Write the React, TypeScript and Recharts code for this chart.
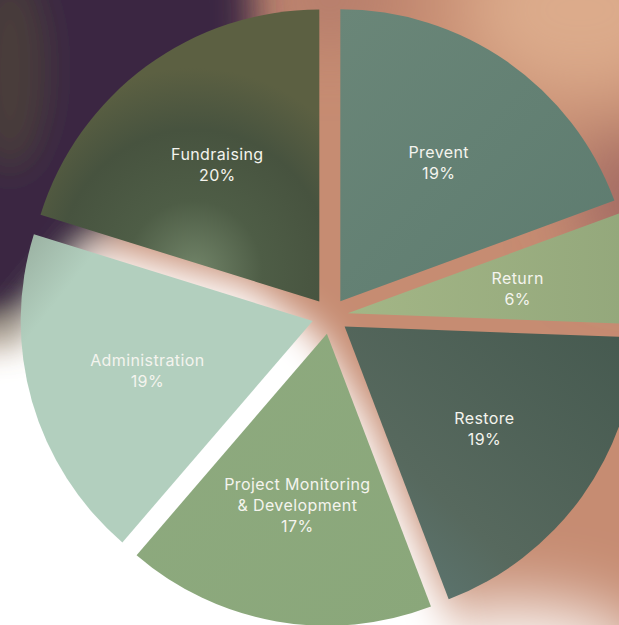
import React from 'react';
import { PieChart, Pie, Cell, Sector } from 'recharts';

const categories = ['Prevent', 'Return', 'Restore', 'Project Monitoring & Development', 'Administration', 'Fundraising'];
const shares = [19.4, 6.2, 18.6, 17.1, 18.5, 20.2];
const labelLines = [['Prevent'], ['Return'], ['Restore'], ['Project Monitoring', '& Development'], ['Administration'], ['Fundraising']];
const gradientIds = ['g-prevent', 'g-return', 'g-restore', 'g-project', 'g-admin', 'g-fund'];

const data = categories.map((name, i) => ({ name, value: shares[i], lines: labelLines[i] }));

const RAD = Math.PI / 180;
const EXPLODE = 18;
const LABEL_R = 172;

const explodedSlice = (props: any) => {
  const a = -props.midAngle * RAD;
  return (
    <Sector
      {...props}
      cx={props.cx + EXPLODE * Math.cos(a)}
      cy={props.cy + EXPLODE * Math.sin(a)}
    />
  );
};

const renderLabel = (props: any) => {
  const { cx, cy, midAngle, payload, value } = props;
  const a = -midAngle * RAD;
  const x = cx + (EXPLODE + LABEL_R) * Math.cos(a);
  const y = cy + (EXPLODE + LABEL_R) * Math.sin(a) + 2;
  const lines: string[] = [...(payload.lines || [payload.name]), `${Math.round(value)}%`];
  const lh = 21;
  const top = y - ((lines.length - 1) * lh) / 2;
  return (
    <text
      x={x}
      y={top}
      fill="#f4f4ee"
      textAnchor="middle"
      dominantBaseline="central"
      fontFamily="Inter, 'Open Sans', sans-serif"
      fontSize={16}
      letterSpacing={0.4}
    >
      {lines.map((l, i) => (
        <tspan key={i} x={x} y={top + i * lh}>{l}</tspan>
      ))}
    </text>
  );
};

// blurred backdrop, like the photo behind the chart
const Backdrop = () => (
  <svg width={619} height={625} style={{ position: 'absolute', left: 0, top: 0 }}>
    <defs>
      <filter id="soft" filterUnits="userSpaceOnUse" x={-200} y={-200} width={1019} height={1025}>
        <feGaussianBlur stdDeviation="18" />
      </filter>
      <filter id="softer" filterUnits="userSpaceOnUse" x={-200} y={-200} width={1019} height={1025}>
        <feGaussianBlur stdDeviation="35" />
      </filter>
    </defs>
    <rect width={619} height={625} fill="#c68c72" />
    <g filter="url(#softer)">
      <ellipse cx={580} cy={10} rx={120} ry={90} fill="#dcab8b" />
      <ellipse cx={630} cy={200} rx={50} ry={70} fill="#9f6862" />
      <ellipse cx={330} cy={0} rx={70} ry={40} fill="#b27a6a" />
      <ellipse cx={510} cy={660} rx={140} ry={55} fill="#ffffff" />
    </g>
    <g filter="url(#soft)">
      <polygon points="-60,-60 250,-60 255,40 200,170 90,240 30,320 -60,340" fill="#3b2743" />
      <ellipse cx={10} cy={70} rx={35} ry={100} fill="#4a3e3a" />
      <polygon points="-60,352 20,335 95,245 250,285 320,335 370,420 430,560 470,700 -60,700" fill="#ffffff" />
    </g>
    <ellipse cx={5} cy={328} rx={18} ry={10} fill="#7d8a6b" filter="url(#soft)" />
  </svg>
);

export default function App() {
  return (
    <div style={{ position: 'absolute', left: 0, top: 0, width: 619, height: 625, overflow: 'hidden' }}>
      <Backdrop />
      <div style={{ position: 'absolute', left: 0, top: 0 }}>
        <PieChart width={619} height={625} margin={{ top: 0, right: 0, bottom: 0, left: 0 }}>
          <defs>
            <linearGradient id="g-prevent" x1="0" y1="0" x2="1" y2="1">
              <stop offset="0%" stopColor="#6a8678" />
              <stop offset="100%" stopColor="#5d7b6f" />
            </linearGradient>
            <linearGradient id="g-return" x1="0" y1="0" x2="1" y2="0">
              <stop offset="0%" stopColor="#a3b686" />
              <stop offset="100%" stopColor="#93a77b" />
            </linearGradient>
            <linearGradient id="g-restore" x1="0" y1="1" x2="1" y2="0">
              <stop offset="0%" stopColor="#5f7c7a" />
              <stop offset="35%" stopColor="#57695e" />
              <stop offset="100%" stopColor="#45594f" />
            </linearGradient>
            <linearGradient id="g-project" x1="0" y1="0" x2="1" y2="1">
              <stop offset="0%" stopColor="#8eaa7f" />
              <stop offset="100%" stopColor="#8aa77a" />
            </linearGradient>
            <linearGradient id="g-admin" x1="0" y1="0" x2="0.6" y2="0.5">
              <stop offset="0%" stopColor="#98ae9f" />
              <stop offset="30%" stopColor="#b2cfbe" />
              <stop offset="100%" stopColor="#b2cfbe" />
            </linearGradient>
            <radialGradient id="g-fund" cx="0.55" cy="0.9" r="0.7">
              <stop offset="0%" stopColor="#728569" />
              <stop offset="35%" stopColor="#4e5d46" />
              <stop offset="70%" stopColor="#47533f" />
              <stop offset="100%" stopColor="#5c6042" />
            </radialGradient>
          </defs>
          <Pie
            data={data}
            dataKey="value"
            nameKey="name"
            cx={330}
            cy={316}
            outerRadius={292}
            startAngle={90}
            endAngle={-270}
            stroke="none"
            labelLine={false}
            label={renderLabel}
            shape={explodedSlice}
            isAnimationActive={false}
          >
            {data.map((d, i) => (
              <Cell key={d.name} fill={`url(#${gradientIds[i]})`} />
            ))}
          </Pie>
        </PieChart>
      </div>
    </div>
  );
}
